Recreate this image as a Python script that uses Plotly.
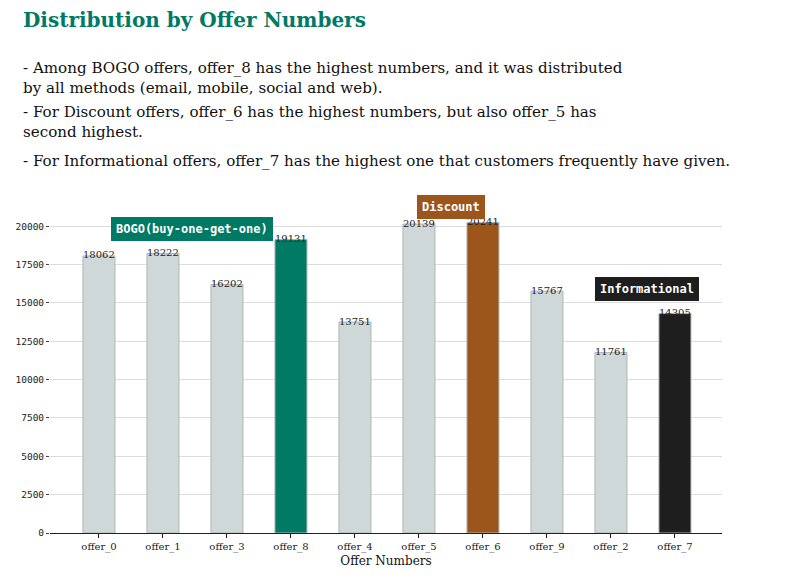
import plotly.graph_objects as go

# offers sorted by type: bogo / discount / informational
offers = ['offer_0', 'offer_1', 'offer_3', 'offer_8', 'offer_4',
          'offer_5', 'offer_6', 'offer_9', 'offer_2', 'offer_7']
counts = [18062, 18222, 16202, 19131, 13751, 20139, 20241, 15767, 11761, 14305]
highlight = {'offer_8': '#007a64', 'offer_6': '#9c561b', 'offer_7': '#1e1e1e'}

notes = [
    '- Among BOGO offers, offer_8 has the highest numbers, and it was distributed<br>by all methods (email, mobile, social and web).',
    '- For Discount offers, offer_6 has the highest numbers, but also offer_5 has<br>second highest.',
    '- For Informational offers, offer_7 has the highest one that customers frequently have given.',
]
note_y = [78, 122, 161]

# page is shown with an 8px body margin, so positions are in screen px minus 8
OFF = 8
W, H = 787, 583
L, R, T, B = 50 - OFF, 787 - 722 + OFF, 207 - OFF, 583 - 533 + OFF
pw, ph = W - L - R, H - T - B

def px(x):
    return (x - OFF - L) / pw

def py(y):
    return (H - B - (y - OFF)) / ph

colors = [highlight.get(o, '#cfd8d9') for o in offers]

fig = go.Figure()
fig.add_trace(go.Bar(x=offers, y=counts, width=0.5, marker_color=colors,
                     marker_line=dict(color='#b0b4b4', width=1), hoverinfo='skip'))

serif = 'DejaVu Serif'
mono = 'DejaVu Sans Mono'

ann = []
for o, c in zip(offers, counts):
    ann.append(dict(x=o, y=c, text=str(c), showarrow=False, yshift=1,
                    font=dict(family=serif, size=10, color='#222')))

ann.append(dict(x=px(21), y=py(20), xref='paper', yref='paper', xanchor='left', yanchor='middle',
                text='<b>Distribution by Offer Numbers</b>', showarrow=False,
                font=dict(family=serif, size=20, color='#007a64')))
for txt, y in zip(notes, note_y):
    ann.append(dict(x=px(21), y=py(y), xref='paper', yref='paper', xanchor='left', yanchor='middle',
                    text=txt, showarrow=False, align='left',
                    font=dict(family=serif, size=15.1, color='#111')))

tags = [('BOGO(buy-one-get-one)', 1.45, 19800, '#007a64'),
        ('Discount', 5.5, 21240, '#9c561b'),
        ('Informational', 8.56, 15900, '#1e1e1e')]
for txt, x, y, col in tags:
    ann.append(dict(x=x, y=y, text='<b>' + txt + '</b>', showarrow=False,
                    bgcolor=col, bordercolor=col, borderpad=4, borderwidth=1,
                    font=dict(family=mono, size=12, color='white')))

fig.update_layout(
    width=W, height=H, margin=dict(l=L, r=R, t=T, b=B),
    paper_bgcolor='white', plot_bgcolor='white', showlegend=False,
    annotations=ann,
    xaxis=dict(range=[-0.765, 9.735], showgrid=False, showline=True, linecolor='#222',
               linewidth=1, ticks='outside', ticklen=4, tickcolor='#222', automargin=False,
               tickfont=dict(family=serif, size=10, color='#222'),
               title=dict(text='Offer Numbers', font=dict(family=serif, size=12, color='#111'),
                          standoff=4)),
    yaxis=dict(range=[0, 21253], tick0=0, dtick=2500, showgrid=True, gridcolor='#dddddd',
               zeroline=False, showline=False, ticks='outside', ticklen=3, tickcolor='#444',
               automargin=False, tickformat='d',
               tickfont=dict(family=mono, size=9.5, color='#222')),
)

fig.write_html("out.html")
